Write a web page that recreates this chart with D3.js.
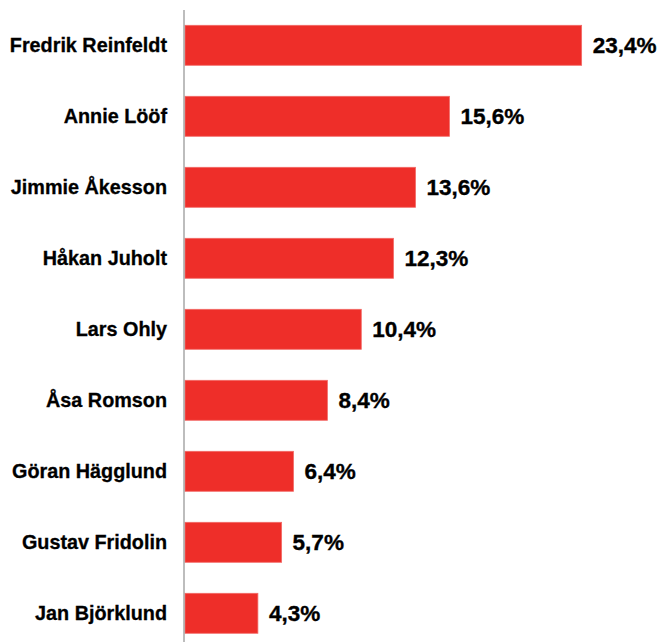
<!DOCTYPE html>
<html><head><meta charset="utf-8">
<script src="https://cdn.jsdelivr.net/npm/d3@7"></script>
<style>body{margin:0;background:#fff}svg{display:block}</style>
</head><body>
<svg id="c" width="661" height="642"></svg>
<script>
const names = ["Fredrik Reinfeldt","Annie Lööf","Jimmie Åkesson","Håkan Juholt","Lars Ohly","Åsa Romson","Göran Hägglund","Gustav Fridolin","Jan Björklund"];
const values = [23.4,15.6,13.6,12.3,10.4,8.4,6.4,5.7,4.3];
const valueLabels = ["23,4%","15,6%","13,6%","12,3%","10,4%","8,4%","6,4%","5,7%","4,3%"];

const svg = d3.select("#c");
const x0 = 185;
const x = d3.scaleLinear().domain([0,25]).range([x0, x0 + 25*16.95]);
const y = d3.scaleBand().domain(names).range([9.8, 648.8]).paddingInner(0.437).paddingOuter(0.2185);

svg.selectAll("rect.bar").data(names).enter().append("rect")
  .attr("class","bar")
  .attr("x", x(0))
  .attr("y", d => y(d))
  .attr("width", (d,i) => x(values[i]) - x(0))
  .attr("height", y.bandwidth())
  .attr("fill", "#EE2E29")
  .attr("stroke", "#F26A66")
  .attr("stroke-width", 0.8);

svg.append("line")
  .attr("x1", 184).attr("x2", 184)
  .attr("y1", 10).attr("y2", 642)
  .attr("stroke", "#9a9a9a").attr("stroke-width", 1.3);

svg.selectAll("text.cat").data(names).enter().append("text")
  .attr("class","cat")
  .attr("x", 167)
  .attr("y", d => y(d) + y.bandwidth()/2)
  .attr("dy", "0.36em")
  .attr("text-anchor","end")
  .attr("font-family","'Liberation Sans', Arial, sans-serif")
  .attr("font-weight","bold")
  .attr("font-size", 19.8)
  .attr("fill","#000")
  .attr("stroke","#000").attr("stroke-width",0.3)
  .text(d => d);

svg.selectAll("text.val").data(names).enter().append("text")
  .attr("class","val")
  .attr("x", (d,i) => x(values[i]) + 11)
  .attr("y", d => y(d) + y.bandwidth()/2)
  .attr("dy", "0.36em")
  .attr("font-family","'Liberation Sans', Arial, sans-serif")
  .attr("font-weight","bold")
  .attr("font-size", 22.5)
  .attr("fill","#000")
  .attr("stroke","#000").attr("stroke-width",0.35)
  .text((d,i) => valueLabels[i]);
</script>
</body></html>
